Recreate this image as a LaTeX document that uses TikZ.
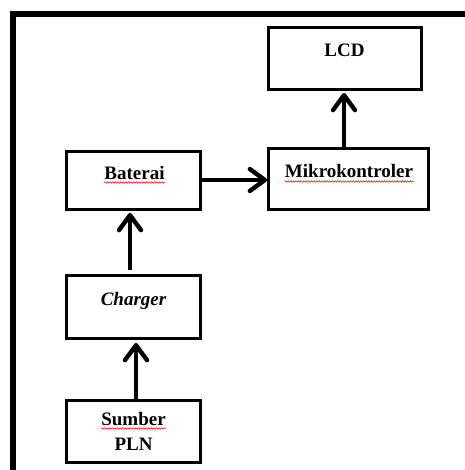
\documentclass[tikz,border=0pt]{standalone}
\usepackage{fontspec}
\setmainfont{Liberation Serif}
\usetikzlibrary{arrows.meta,decorations.pathmorphing}
\begin{document}
\begin{tikzpicture}[x=1pt,y=-1pt,
  box/.style={draw,line width=3.4pt,rectangle,inner sep=0pt},
  lbl/.style={anchor=base,inner sep=0pt,font=\fontsize{19}{22}\selectfont\bfseries},
  arr/.style={line width=4.4pt,-{Straight Barb[length=15pt,width=22pt,line cap=round,line join=round]}},
  spell/.style={red,line width=0.5pt,decorate,decoration={snake,amplitude=0.8pt,segment length=2.6pt}}]
\useasboundingbox (0,0) rectangle (464,470);
% outer frame
\draw[line width=6pt,line join=miter] (13,472) -- (13,14) -- (466,14);
% boxes
\node[box,minimum width=152.5pt,minimum height=61.5pt] (lcd) at (345,58.5) {};
\node[box,minimum width=159.5pt,minimum height=60.5pt] (mikro) at (348.5,179) {};
\node[box,minimum width=133.5pt,minimum height=57.5pt] (baterai) at (133.5,180.5) {};
\node[box,minimum width=133.5pt,minimum height=62.5pt] (charger) at (133.5,307) {};
\node[box,minimum width=133.5pt,minimum height=61.5pt] (sumber) at (133.5,431.5) {};
% labels
\node[lbl] (lcdt) at (344.5,57) {LCD};
\node[lbl] (mikrot) at (349,178) {Mikrokontroler};
\node[lbl] (batt) at (134.5,179) {Baterai};
\node[lbl,font=\fontsize{19}{22}\selectfont\bfseries\itshape] (chart) at (133.5,305) {Charger};
\node[lbl] (sumt) at (133.5,425) {Sumber};
\node[lbl] (plnt) at (133.5,450) {PLN};
% spell-check marks
\draw[spell] ([yshift=-3.5pt]batt.base west) -- ([yshift=-3.5pt]batt.base east);
\draw[spell] ([yshift=-3.5pt]mikrot.base west) -- ([yshift=-3.5pt]mikrot.base east);
\draw[spell] ([yshift=-3.5pt]sumt.base west) -- ([yshift=-3.5pt]sumt.base east);
% arrows
\draw[arr] (baterai.east |- 0,180) -- (mikro.west |- 0,180);
\draw[arr] (mikro.north -| 344,0) -- ([yshift=-2pt]lcd.south -| 344,0);
\draw[arr] ([yshift=4pt]charger.north -| 130,0) -- ([yshift=-2pt]baterai.south -| 130,0);
\draw[arr] (sumber.north -| 136,0) -- ([yshift=-3pt]charger.south -| 136,0);
\end{tikzpicture}
\end{document}
